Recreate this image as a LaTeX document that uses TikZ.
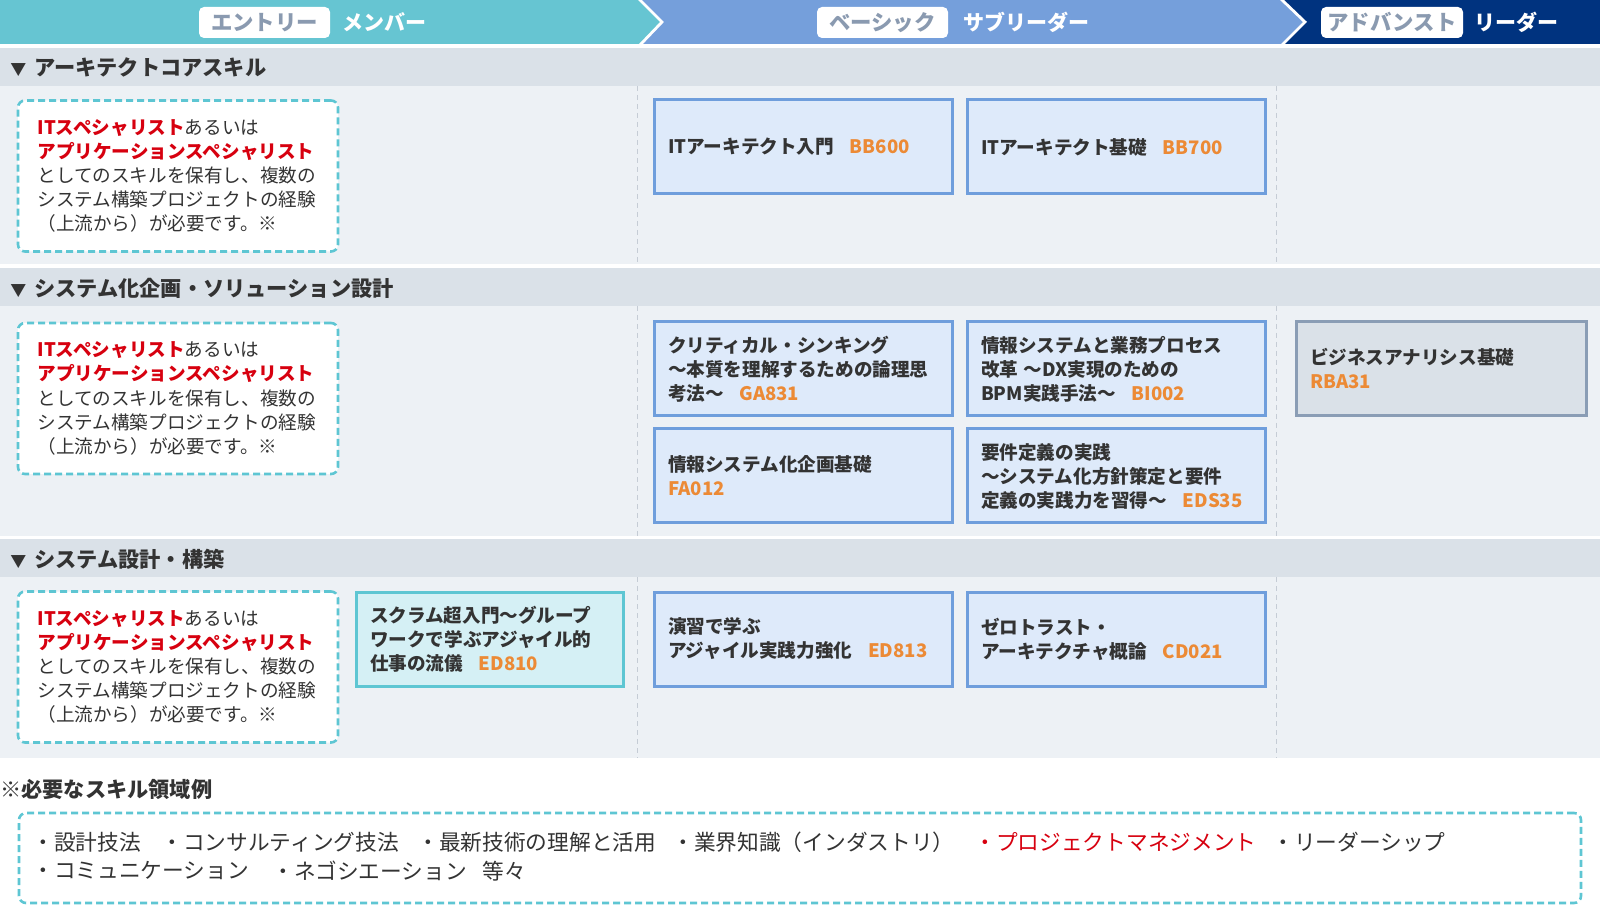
\documentclass[tikz,border=0pt]{standalone}
\usepackage{fontspec}
\setmainfont{Noto Sans CJK JP}
\definecolor{hdrCyan}{HTML}{66C5D2}
\definecolor{hdrBlue}{HTML}{759FDB}
\definecolor{hdrNavy}{HTML}{00337F}
\definecolor{secBand}{HTML}{DAE1E8}
\definecolor{contentBg}{HTML}{EDF1F5}
\definecolor{dashCyan}{HTML}{5EC6D3}
\definecolor{cbFill}{HTML}{DEEAFA}
\definecolor{cbBorder}{HTML}{6F9EDC}
\definecolor{rbFill}{HTML}{DAE1E8}
\definecolor{rbBorder}{HTML}{8A9DB5}
\definecolor{edFill}{HTML}{D5F0F5}
\definecolor{txtDark}{HTML}{333333}
\definecolor{txtRed}{HTML}{D7000F}
\definecolor{codeOrange}{HTML}{EC8A35}
\definecolor{lvlText}{HTML}{8A9AB0}
\definecolor{sepGray}{HTML}{C5CCD5}
\newcommand\crscode[1]{\hspace{0.85em}{\color{codeOrange}#1}}
\newcommand\hlred[1]{{\color{txtRed}\bfseries #1}}
\newcommand\reqtext{\hlred{ITスペシャリスト}あるいは\\\hlred{アプリケーションスペシャリスト}\\としてのスキルを保有し、複数の\\システム構築プロジェクトの経験\\（上流から）が必要です。※}
\tikzset{
  lvlbox/.style={fill=white, rounded corners=2.5pt, text=lvlText, font=\fontsize{10.7}{12}\selectfont\bfseries, minimum height=15.5pt, inner sep=0pt},
  lvlname/.style={anchor=west, inner sep=0pt, text=white, font=\fontsize{10.5}{12}\selectfont\bfseries},
  sectitle/.style={anchor=west, inner sep=0pt, text=txtDark, font=\fontsize{10.6}{12}\selectfont\bfseries},
  sepline/.style={draw=sepGray, line width=0.5pt, dash pattern=on 2.5pt off 2pt},
  reqbox/.style={draw=dashCyan, fill=white, line width=1.3pt, dash pattern=on 3.5pt off 2pt, rounded corners=3.5pt,
    minimum width=160pt, minimum height=75.5pt, text width=140.5pt, inner xsep=9.75pt, align=left,
    text=txtDark, font=\fontsize{9.3}{12.1}\selectfont},
  coursebox/.style={draw=cbBorder, fill=cbFill, line width=1.5pt, minimum width=149pt, minimum height=47pt,
    text width=135pt, inner xsep=7pt, align=left, text=txtDark, font=\fontsize{9.3}{12}\selectfont\bfseries},
  rbabox/.style={coursebox, draw=rbBorder, fill=rbFill, minimum width=145pt, text width=131pt},
  edbox/.style={coursebox, draw=dashCyan, fill=edFill, minimum width=133.5pt, text width=119.5pt},
  bitem/.style={anchor=west, inner sep=0pt, text=txtDark, font=\fontsize{10.85}{13}\selectfont},
}
\begin{document}
\begin{tikzpicture}[x=0.5pt,y=-0.5pt]
\fill[white] (0,0) rectangle (1600,908);
\useasboundingbox (0,0) rectangle (1600,908);
% header band
\fill[hdrCyan] (0,0) -- (640,0) -- (662,22) -- (640,44) -- (0,44) -- cycle;
\fill[hdrBlue] (640,0) -- (1282,0) -- (1305,22) -- (1282,44) -- (640,44) -- (662,22) -- cycle;
\fill[hdrNavy] (1282,0) -- (1600,0) -- (1600,44) -- (1282,44) -- (1305,22) -- cycle;
\draw[white, line width=1.4pt] (639,-1) -- (662,22) -- (640,45);
\draw[white, line width=1.4pt] (1281,-1) -- (1305,22) -- (1282,45);
\node[lvlbox, minimum width=65.5pt] (lv1) at (264.5,22.5) {エントリー};
\node[lvlname] (nm1) at (342,22) {メンバー};
\node[lvlbox, minimum width=65.5pt] (lv2) at (882.5,22.5) {ベーシック};
\node[lvlname] (nm2) at (963,22) {サブリーダー};
\node[lvlbox, minimum width=71pt] (lv3) at (1392,22.5) {アドバンスト};
\node[lvlname] (nm3) at (1474,22) {リーダー};
% section bands and content areas
\fill[secBand] (0,48) rectangle (1600,86);
\fill[contentBg] (0,86) rectangle (1600,264);
\fill[secBand] (0,268) rectangle (1600,306);
\fill[contentBg] (0,306) rectangle (1600,536);
\fill[secBand] (0,539) rectangle (1600,577);
\fill[contentBg] (0,577) rectangle (1600,758);
\foreach \ya/\yb in {86/264, 306/536, 577/758}{
  \draw[sepline] (637,\ya) -- (637,\yb);
  \draw[sepline] (1276,\ya) -- (1276,\yb);
}
\node[sectitle] (s1) at (10,67.5) {{\fontsize{8}{8}\selectfont ▼}\hspace{4pt}アーキテクトコアスキル};
\node[sectitle] (s2) at (10,288) {{\fontsize{8}{8}\selectfont ▼}\hspace{4pt}システム化企画・ソリューション設計};
\node[sectitle] (s3) at (10,559) {{\fontsize{8}{8}\selectfont ▼}\hspace{4pt}システム設計・構築};
% requirement boxes
\node[reqbox] (r1) at (178,176) {\reqtext};
\node[reqbox] (r2) at (178,398.5) {\reqtext};
\node[reqbox] (r3) at (178,667) {\reqtext};
% courses
\node[coursebox] (bb600) at (803,147) {ITアーキテクト入門\crscode{BB600}};
\node[coursebox] (bb700) at (1116,147) {ITアーキテクト基礎\crscode{BB700}};
\node[coursebox] (ga831) at (803,369) {クリティカル・シンキング\\～本質を理解するための論理思\\考法～\crscode{GA831}};
\node[coursebox] (bi002) at (1116,369) {情報システムと業務プロセス\\改革\hspace{0.3em}～DX実現のための\\BPM実践手法～\crscode{BI002}};
\node[coursebox] (fa012) at (803,476) {情報システム化企画基礎\\{\color{codeOrange}FA012}};
\node[coursebox] (eds35) at (1116,476) {要件定義の実践\\～システム化方針策定と要件\\定義の実践力を習得～\crscode{EDS35}};
\node[rbabox] (rba31) at (1441,369) {ビジネスアナリシス基礎\\{\color{codeOrange}RBA31}};
\node[edbox] (ed810) at (489.5,639) {スクラム超入門～グループ\\ワークで学ぶアジャイル的\\仕事の流儀\crscode{ED810}};
\node[coursebox] (ed813) at (803,639) {演習で学ぶ\\アジャイル実践力強化\crscode{ED813}};
\node[coursebox] (cd021) at (1116,639) {ゼロトラスト・\\アーキテクチャ概論\crscode{CD021}};
% bottom note
\node[anchor=west, inner sep=0pt, text=txtDark, font=\fontsize{10.6}{12}\selectfont] (note) at (0,789) {※\textbf{必要なスキル領域例}};
\node[draw=dashCyan, line width=1.3pt, dash pattern=on 3.5pt off 2pt, rounded corners=3.5pt, minimum width=781pt, minimum height=45pt, inner sep=0pt] (skills) at (800,858) {};
\node[bitem] (k1) at (32,842) {・設計技法};
\node[bitem] (k2) at (161,842) {・コンサルティング技法};
\node[bitem] (k3) at (417,842) {・最新技術の理解と活用};
\node[bitem] (k4) at (672,842) {・業界知識（インダストリ）};
\node[bitem, text=txtRed] (k5) at (974,842) {・プロジェクトマネジメント};
\node[bitem] (k6) at (1272,842) {・リーダーシップ};
\node[bitem] (k7) at (32,871) {・コミュニケーション};
\node[bitem] (k8) at (272,871) {・ネゴシエーション};
\node[bitem] (k9) at (482,871) {等々};
\end{tikzpicture}
\end{document}
